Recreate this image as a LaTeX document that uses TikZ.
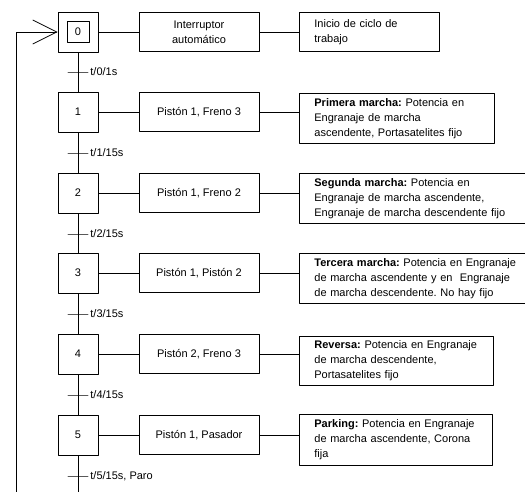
\documentclass[tikz,border=0pt]{standalone}
\usepackage{fontspec}
\setmainfont{Liberation Sans}
\usetikzlibrary{arrows.meta}

\tikzset{
  etapa/.style={draw,minimum width=40,minimum height=40,inner sep=0},
  accion/.style={draw,minimum width=120,minimum height=39,inner sep=0,align=center},
  descr/.style={draw,anchor=north west,align=left,inner xsep=15,inner ysep=4},
  trans/.style={draw,minimum width=20,minimum height=0,inner sep=0,outer sep=0,
    label={[inner sep=2pt]right:#1}},
  every node/.style={font=\fontsize{11}{14.8}\selectfont\frenchspacing},
}

\begin{document}
\begin{tikzpicture}[x=1pt,y=-1pt,line width=0.8pt,line cap=round,line join=round]
\useasboundingbox (0,0) rectangle (525,491);
\clip (0,0) rectangle (525,491);
\node[etapa] (s0) at (78,32) {};
\node[draw,minimum width=22,minimum height=21,inner sep=0] (i0) at (s0) {0};
\node[etapa] (s1) at (78,112) {1};
\node[etapa] (s2) at (78,193) {2};
\node[etapa] (s3) at (78,273) {3};
\node[etapa] (s4) at (78,354) {4};
\node[etapa] (s5) at (78,435) {5};
\node[accion] (a0) at (199,32) {Interruptor\\automático};
\node[accion] (a1) at (199,112) {Pistón 1, Freno 3};
\node[accion] (a2) at (199,193) {Pistón 1, Freno 2};
\node[accion] (a3) at (199,273) {Pistón 1, Pistón 2};
\node[accion] (a4) at (199,354) {Pistón 2, Freno 3};
\node[accion] (a5) at (199,435) {Pistón 1, Pasador};
\node[descr,text width=110,minimum height=39] (d0) at (299,12) {Inicio de ciclo de\\trabajo};
\node[descr,text width=165,minimum height=50] (d1) at (299,93) {\textbf{Primera marcha:} Potencia en\\Engranaje de marcha\\ascendente, Portasatelites fijo};
\node[descr,text width=225,minimum height=50] (d2) at (299,173) {\textbf{Segunda marcha:} Potencia en\\Engranaje de marcha ascendente,\\Engranaje de marcha descendente fijo};
\node[descr,text width=225,minimum height=50] (d3) at (299,253) {\textbf{Tercera marcha:} Potencia en Engranaje\\de marcha ascendente y en\ \ Engranaje\\de marcha descendente. No hay fijo};
\node[descr,text width=164,minimum height=49] (d4) at (299,336) {\textbf{Reversa:} Potencia en Engranaje\\de marcha descendente,\\Portasatelites fijo};
\node[descr,text width=163,minimum height=51] (d5) at (299,414) {\textbf{Parking:} Potencia en Engranaje\\de marcha ascendente, Corona\\fija};
\node[trans={t/0/1s}] (t0) at (78,72) {};
\node[trans={t/1/15s}] (t1) at (78,153) {};
\node[trans={t/2/15s}] (t2) at (78,234) {};
\node[trans={t/3/15s}] (t3) at (78,314) {};
\node[trans={t/4/15s}] (t4) at (78,395) {};
\node[trans={t/5/15s, Paro}] (t5) at (78,476) {};
\draw (s0) -- (a0) -- (d0.west |- a0);
\draw (s1) -- (a1) -- (d1.west |- a1);
\draw (s2) -- (a2) -- (d2.west |- a2);
\draw (s3) -- (a3) -- (d3.west |- a3);
\draw (s4) -- (a4) -- (d4.west |- a4);
\draw (s5) -- (a5) -- (d5.west |- a5);
\draw (s0) -- (s1) -- (s2) -- (s3) -- (s4) -- (s5);
\coordinate (fin) at (78,500);
\coordinate (ret) at (16,500);
\draw[-{Straight Barb[length=24pt,width=24pt]}] (s5) -- (fin) -- (ret) |- (s0.west);
\end{tikzpicture}
\end{document}
